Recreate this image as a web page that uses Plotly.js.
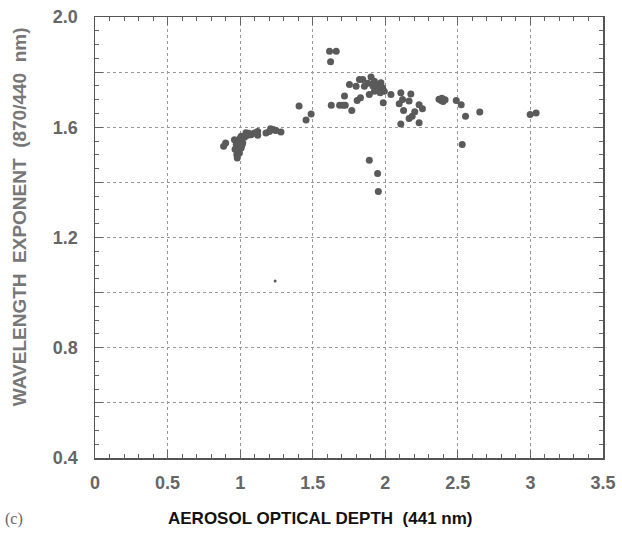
<!DOCTYPE html>
<html>
<head>
<meta charset="utf-8">
<script src="https://cdn.plot.ly/plotly-3.0.1.min.js"></script>
<style>html,body{margin:0;padding:0;background:#fff;}#chart{width:622px;height:533px;}</style>
</head>
<body>
<div id="chart"></div>
<script>
// Aerosol optical depth (441 nm)
const aod = [
  0.886, 0.900, 0.961, 0.973, 0.984, 0.977, 0.995, 1.007, 1.018, 1.007,
  1.030, 1.053, 1.075, 1.098, 1.121, 1.121, 1.178, 1.201, 1.224, 1.247,
  1.281, 0.980, 0.990, 0.965, 1.000, 1.012, 1.040, 1.060, 1.210, 1.235,
  1.406, 1.454, 1.489,
  1.616, 1.662, 1.623,
  1.628, 1.685, 1.708, 1.724, 1.769, 1.719, 1.753, 1.799, 1.806, 1.822,
  1.829, 1.845, 1.856, 1.890, 1.902, 1.925, 1.925, 1.947, 1.959, 1.970,
  1.982, 1.993, 1.986, 2.039, 1.880, 1.940, 1.965, 1.915,
  2.107, 2.176, 2.119, 2.096, 2.164, 2.126, 2.203, 2.164, 2.107, 2.233,
  2.233, 2.256, 2.185,
  2.370, 2.385, 2.398, 2.412, 2.390, 2.489, 2.523, 2.553, 2.651,
  2.530, 2.998, 3.039,
  1.890, 1.947, 1.952
];
// Wavelength exponent (870/440 nm)
const alpha = [
  1.531, 1.543, 1.555, 1.537, 1.519, 1.501, 1.507, 1.525, 1.543, 1.567,
  1.564, 1.571, 1.573, 1.579, 1.585, 1.571, 1.579, 1.585, 1.592, 1.588,
  1.583, 1.488, 1.550, 1.520, 1.560, 1.535, 1.580, 1.578, 1.595, 1.590,
  1.677, 1.626, 1.648,
  1.876, 1.876, 1.838,
  1.680, 1.680, 1.680, 1.680, 1.661, 1.713, 1.755, 1.749, 1.697, 1.773,
  1.707, 1.773, 1.749, 1.719, 1.782, 1.767, 1.731, 1.755, 1.737, 1.761,
  1.743, 1.731, 1.689, 1.719, 1.760, 1.745, 1.725, 1.750,
  1.725, 1.721, 1.701, 1.685, 1.695, 1.661, 1.656, 1.632, 1.612, 1.616,
  1.682, 1.667, 1.640,
  1.702, 1.697, 1.693, 1.700, 1.705, 1.697, 1.682, 1.640, 1.655,
  1.537, 1.646, 1.652,
  1.480, 1.432, 1.367
];
// Single small outlier point
const aodSmall = [1.241];
const alphaSmall = [1.042];

const yTickVals = [0.4, 0.6, 0.8, 1.0, 1.2, 1.4, 1.6, 1.8, 2.0];
const yTickText = ['0.4', '', '0.8', '', '1.2', '', '1.6', '', '2.0'];
const xTickVals = [0, 0.5, 1, 1.5, 2, 2.5, 3, 3.5];
const xTickText = ['0', '0.5', '1', '1.5', '2', '2.5', '3', '3.5'];

const tickFont = {family: 'Liberation Sans, Arial, sans-serif', size: 18, color: '#666', weight: 'bold'};

const traces = [
  {x: aod, y: alpha, type: 'scatter', mode: 'markers',
   marker: {size: 7, color: '#5a5a5a'}, hoverinfo: 'x+y'},
  {x: aodSmall, y: alphaSmall, type: 'scatter', mode: 'markers',
   marker: {size: 3, color: '#5a5a5a'}, hoverinfo: 'x+y'}
];

const layout = {
  width: 622, height: 533,
  margin: {l: 95, r: 19, t: 17, b: 75},
  paper_bgcolor: '#fff', plot_bgcolor: '#fff',
  showlegend: false,
  xaxis: {
    range: [0, 3.5], tickvals: xTickVals, ticktext: xTickText,
    ticks: 'inside', ticklen: 8, tickcolor: '#666', tickwidth: 1,
    showline: true, linecolor: '#555', linewidth: 1.5, mirror: 'allticks',
    showgrid: true, gridcolor: '#999', griddash: 'dot', gridwidth: 1,
    zeroline: false, tickfont: tickFont, ticklabelstandoff: 8,
    minor: {dtick: 0.1, tick0: 0, ticks: 'inside', ticklen: 4, tickcolor: '#666', showgrid: false}
  },
  yaxis: {
    range: [0.4, 2.0], tickvals: yTickVals, ticktext: yTickText,
    ticks: 'inside', ticklen: 8, tickcolor: '#666', tickwidth: 1,
    showline: true, linecolor: '#555', linewidth: 1.5, mirror: 'allticks',
    showgrid: true, gridcolor: '#999', griddash: 'dot', gridwidth: 1,
    zeroline: false, tickfont: tickFont, ticklabelstandoff: 12,
    minor: {dtick: 0.05, tick0: 0.4, ticks: 'inside', ticklen: 4, tickcolor: '#666', showgrid: false}
  },
  annotations: [
    {text: '<b>WAVELENGTH  EXPONENT  (870/440  nm)</b>', xref: 'paper', yref: 'paper',
     x: -0.148, y: 0.548, xanchor: 'center', yanchor: 'middle', textangle: -90, showarrow: false,
     font: {family: 'Liberation Sans, Arial, sans-serif', size: 19, color: '#777'}},
    {text: '<b>AEROSOL OPTICAL DEPTH  (441 nm)</b>', xref: 'paper', yref: 'paper',
     x: 0.443, y: -0.138, xanchor: 'center', yanchor: 'middle', showarrow: false,
     font: {family: 'Liberation Sans Narrow, Liberation Sans, Arial, sans-serif', size: 17, color: '#111'}},
    {text: '(c)', xref: 'paper', yref: 'paper',
     x: -0.16, y: -0.138, xanchor: 'center', yanchor: 'middle', showarrow: false,
     font: {family: 'Liberation Serif, Times New Roman, serif', size: 16, color: '#666'}}
  ]
};

Plotly.newPlot('chart', traces, layout, {displayModeBar: false, staticPlot: true});
</script>
</body>
</html>
